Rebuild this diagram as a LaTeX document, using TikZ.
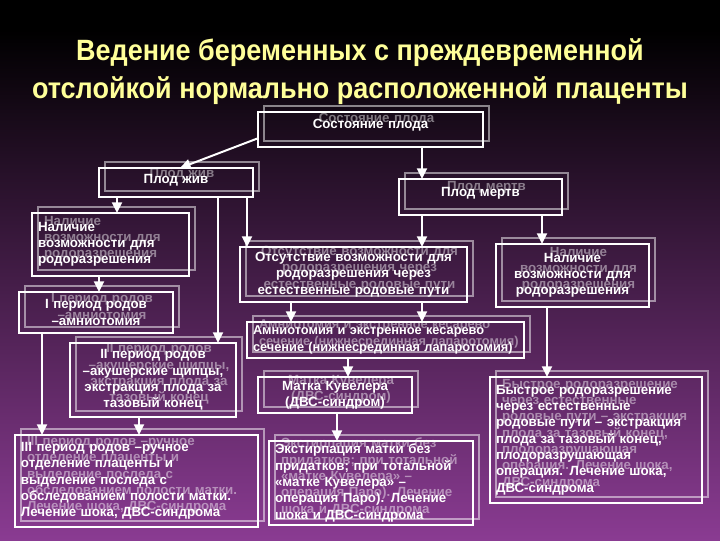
\documentclass[tikz,border=0pt]{standalone}
\usepackage{fontspec}
\setmainfont{Liberation Sans}
\newfontfamily\titlefont[FakeStretch=0.92]{Liberation Sans}
\usetikzlibrary{arrows.meta,calc}
\definecolor{ttl}{HTML}{FFFF99}
\definecolor{bgbot}{HTML}{8A3B92}
\newcommand\bodyfont{\fontsize{10}{12.2}\selectfont\bfseries}
\newcommand\smallbody{\fontsize{9.6}{12.2}\selectfont\bfseries}
\newcommand\gbox[7]{%
  \pgfmathsetmacro\bw{((#4)-(#2))*0.75}%
  \pgfmathsetmacro\bh{((#5)-(#3))*0.75}%
  \pgfmathsetmacro\tw{((#4)-(#2)-12)*0.75}%
  \node[ghostbox,anchor=north west,minimum width=\bw pt,minimum height=\bh pt,text width=\tw pt,#6] at (#2+6,#3-6) {#7};%
  \node[whitebox,anchor=north west,minimum width=\bw pt,minimum height=\bh pt,text width=\tw pt,#6] (#1) at (#2,#3) {#7};%
}
\tikzset{
  whitebox/.style={draw=white, line width=1.1pt, text=white, inner xsep=4.5pt, inner ysep=2pt, outer sep=0pt, font=\bodyfont},
  ghostbox/.style={whitebox, draw opacity=0.5, text opacity=0.45},
  arr/.style={draw=white, line width=1.5pt, -{Triangle[width=7.5pt,length=8pt]}},
}
\begin{document}
\begin{tikzpicture}[x=0.75pt,y=-0.75pt]
\useasboundingbox (0,0) rectangle (720,540);
\fill[black] (0,0) rectangle (720,31);
\shade[top color=black, bottom color=bgbot] (0,30) rectangle (720,540);

\node[font=\titlefont\fontsize{22}{28.5}\selectfont\bfseries, text=ttl, align=center] (title) at (360,72)
  {Ведение беременных с преждевременной\\отслойкой нормально расположенной плаценты};

\gbox{sost}{258}{112}{483}{147}{align=center,text depth=8pt}{Состояние плода}
\gbox{pzh}{99}{168}{253}{197}{align=center,text depth=5pt}{Плод жив}
\gbox{pm}{399}{179}{562}{215}{align=center,text depth=8pt}{Плод мертв}
\gbox{nall}{32}{213}{189}{276}{align=left}{Наличие\\возможности для\\родоразрешения}
\gbox{nalr}{496}{244}{649}{307}{align=center}{Наличие\\возможности для\\родоразрешения}
\gbox{ots}{240}{247}{467}{302}{align=center}{Отсутствие возможности для\\родоразрешения через\\естественные родовые пути}
\gbox{per1}{19}{292}{173}{333}{align=center}{I период родов\\–амниотомия}
\gbox{amn}{247}{322}{524}{358}{align=left,font=\smallbody}{Амниотомия и экстренное кесарево\\сечение (нижнесрединная лапаротомия)}
\gbox{per2}{70}{343}{236}{417}{align=center}{II период родов\\–акушерские щипцы,\\экстракция плода за\\тазовый конец}
\gbox{matka}{258}{377}{412}{413}{align=center}{Матка Кувелера\\(ДВС-синдром)}
\gbox{bys}{490}{377}{702}{503}{align=left}{Быстрое родоразрешение\\через естественные\\родовые пути – экстракция\\плода за тазовый конец,\\плодоразрушающая\\операция. Лечение шока,\\ДВС-синдрома}
\gbox{per3}{15}{435}{258}{527}{align=left}{III период родов –ручное\\отделение плаценты и\\выделение последа с\\обследованием полости матки.\\Лечение шока, ДВС-синдрома}
\gbox{ekst}{269}{441}{473}{525}{align=left}{Экстирпация матки без\\придатков; при тотальной\\«матке Кувелера» –\\операция Паро). Лечение\\шока и ДВС-синдрома}

\foreach \xx in {42,99,117,139,180,218,247,291,337,348,422,542,547}
  \coordinate (c\xx) at (\xx,0);

\draw[arr] ($(sost.south west)!0.25!(sost.north west)$) -- (pzh.north -| c180);
\draw[arr] (sost.south -| c422) -- (pm.north -| c422);
\draw[arr] (pzh.south -| c117) -- (nall.north -| c117);
\draw[arr] (pzh.south -| c218) -- (per2.north -| c218);
\draw[arr] (pzh.south -| c247) -- (ots.north -| c247);
\draw[arr] (pm.south -| c422) -- (ots.north -| c422);
\draw[arr] (pm.south -| c542) -- (nalr.north -| c542);
\draw[arr] (nall.south -| c99) -- (per1.north -| c99);
\draw[arr] (per1.south -| c42) -- (per3.north -| c42);
\draw[arr] (per2.south -| c139) -- (per3.north -| c139);
\draw[arr] (ots.south -| c291) -- (amn.north -| c291);
\draw[arr] (ots.south -| c422) -- (amn.north -| c422);
\draw[arr] (amn.south -| c348) -- (matka.north -| c348);
\draw[arr] (matka.south -| c337) -- (ekst.north -| c337);
\draw[arr] (nalr.south -| c547) -- (bys.north -| c547);
\end{tikzpicture}
\end{document}
